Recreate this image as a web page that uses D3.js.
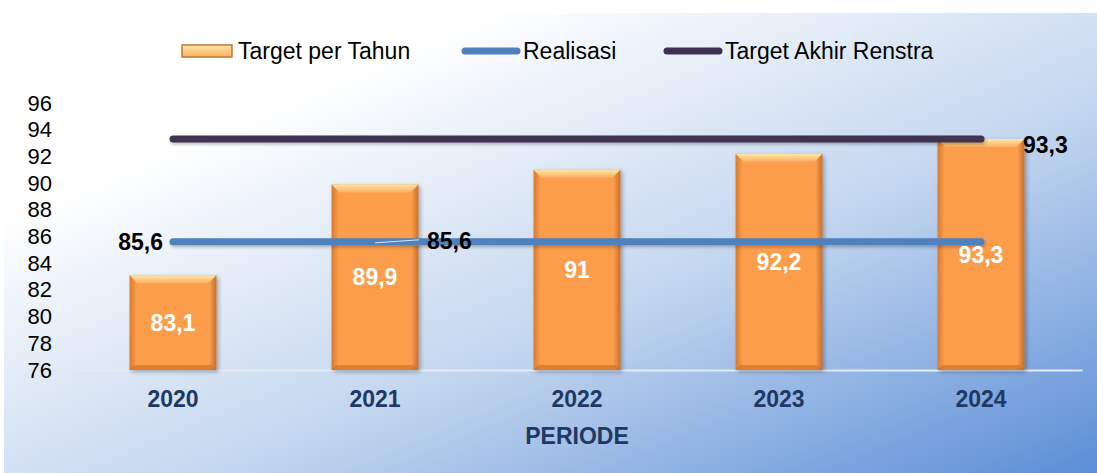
<!DOCTYPE html>
<html>
<head>
<meta charset="utf-8">
<script src="https://cdn.jsdelivr.net/npm/d3@7"></script>
<style>
  body { margin: 0; background: #fff; }
  svg { display: block; font-family: "Liberation Sans", Arial, sans-serif; }
</style>
</head>
<body>
<svg id="chart"></svg>
<script>
const years = ["2020", "2021", "2022", "2023", "2024"]
const targetTahun = [83.1, 89.9, 91, 92.2, 93.3]
const realisasi = [85.6, 85.6, 85.6, 85.6, 85.6]
const targetRenstra = [93.3, 93.3, 93.3, 93.3, 93.3]
const yTicks = [76, 78, 80, 82, 84, 86, 88, 90, 92, 94, 96]
const legendNames = ["Target per Tahun", "Realisasi", "Target Akhir Renstra"]

const W = 1097, H = 473
const m = {t: 103, b: 103, l: 72, r: 15}

const fmt = v => String(v).replace(".", ",")

const svg = d3.select("#chart").attr("width", W).attr("height", H)
const defs = svg.append("defs")

// background
const bg = defs.append("linearGradient").attr("id", "bg")
    .attr("x1", 0).attr("y1", 0).attr("x2", 1).attr("y2", 1)
bg.append("stop").attr("offset", "0.22").attr("stop-color", "#ffffff")
bg.append("stop").attr("offset", "0.6").attr("stop-color", "#c3d6ef")
bg.append("stop").attr("offset", "1").attr("stop-color", "#5b8ed7")

svg.append("rect").attr("x", 4).attr("y", 13).attr("width", W - 4).attr("height", H - 13)
    .attr("fill", "url(#bg)")

// bar bevel
const side = defs.append("linearGradient").attr("id", "barSide")
    .attr("x1", 0).attr("y1", 0).attr("x2", 1).attr("y2", 0)
side.append("stop").attr("offset", "0").attr("stop-color", "#d9792c")
side.append("stop").attr("offset", "0.08").attr("stop-color", "#fc9d4c")
side.append("stop").attr("offset", "0.92").attr("stop-color", "#fc9d4c")
side.append("stop").attr("offset", "1").attr("stop-color", "#c96e28")

const barTop = defs.append("linearGradient").attr("id", "barTop")
    .attr("x1", 0).attr("y1", 0).attr("x2", 0).attr("y2", 1)
barTop.append("stop").attr("offset", "0").attr("stop-color", "#ffe6a8")
barTop.append("stop").attr("offset", "1").attr("stop-color", "#fcb060")

const shadow = defs.append("filter").attr("id", "shadow")
    .attr("x", "-10%").attr("y", "-10%").attr("width", "130%").attr("height", "130%")
shadow.append("feDropShadow").attr("dx", 2).attr("dy", 2).attr("stdDeviation", 2)
    .attr("flood-color", "#000").attr("flood-opacity", 0.3)

// flat lines have a zero-height bbox, so this one works in user space
const lineShadow = defs.append("filter").attr("id", "lineShadow")
    .attr("filterUnits", "userSpaceOnUse")
    .attr("x", 0).attr("y", 0).attr("width", W).attr("height", H)
lineShadow.append("feDropShadow").attr("dx", 1).attr("dy", 2).attr("stdDeviation", 1.5)
    .attr("flood-color", "#000").attr("flood-opacity", 0.25)

const x = d3.scaleBand().domain(years).range([m.l, W - m.r]).paddingInner(0.57).paddingOuter(0.285)
const y = d3.scaleLinear().domain([76, 96]).range([370, 103])

// y axis
const yAxis = svg.append("g")
    .attr("transform", `translate(52,0)`)
    .call(d3.axisLeft(y).tickValues(yTicks).tickSize(0).tickPadding(0))
yAxis.select(".domain").remove()
yAxis.selectAll("text").attr("font-size", 22).attr("fill", "#000")
    .attr("font-family", "Liberation Sans, Arial, sans-serif")

// x axis
const xAxis = svg.append("g")
    .attr("transform", `translate(0,${y(76)})`)
    .call(d3.axisBottom(x).tickSize(0).tickPadding(21))
xAxis.select(".domain").attr("stroke", "#e4ebf5").attr("stroke-width", 2)
xAxis.selectAll("text").attr("font-size", 23).attr("font-weight", "bold")
    .attr("fill", "#1f3864").attr("font-family", "Liberation Sans, Arial, sans-serif")

svg.append("text").attr("x", (m.l + W - m.r) / 2).attr("y", 444)
    .attr("text-anchor", "middle").attr("font-size", 23).attr("font-weight", "bold")
    .attr("fill", "#1f3864").text("PERIODE")

// bars
const bars = svg.selectAll(".bar").data(years).join("g").attr("class", "bar")
    .attr("filter", "url(#shadow)")
bars.append("rect")
    .attr("x", d => x(d)).attr("width", x.bandwidth())
    .attr("y", (d, i) => y(targetTahun[i]))
    .attr("height", (d, i) => y(76) - y(targetTahun[i]))
    .attr("fill", "url(#barSide)")
bars.append("path")
    .attr("d", (d, i) => {
        const x0 = x(d), x1 = x0 + x.bandwidth(), y0 = y(targetTahun[i]), b = 8
        return `M${x0},${y0}L${x1},${y0}L${x1 - b},${y0 + b}L${x0 + b},${y0 + b}Z`
    })
    .attr("fill", "url(#barTop)")
bars.append("path")
    .attr("d", d => {
        const x0 = x(d), x1 = x0 + x.bandwidth(), y1 = y(76), b = 5
        return `M${x0},${y1}L${x1},${y1}L${x1 - b},${y1 - b}L${x0 + b},${y1 - b}Z`
    })
    .attr("fill", "#c56c26").attr("opacity", 0.6)

// lines
const cx = d => x(d) + x.bandwidth() / 2
const line = vals => d3.line().x(d => cx(d)).y((d, i) => y(vals[i]))(years)

svg.append("path").attr("d", line(targetRenstra))
    .attr("fill", "none").attr("stroke", "#3f3151").attr("stroke-width", 7)
    .attr("stroke-linecap", "round").attr("filter", "url(#lineShadow)")
svg.append("path").attr("d", line(realisasi))
    .attr("fill", "none").attr("stroke", "#4f81bd").attr("stroke-width", 7)
    .attr("stroke-linecap", "round").attr("filter", "url(#lineShadow)")

// bar labels
svg.selectAll(".blab").data(years).join("text").attr("class", "blab")
    .attr("x", d => cx(d))
    .attr("y", (d, i) => (y(targetTahun[i]) + y(76)) / 2 + 8)
    .attr("text-anchor", "middle").attr("font-size", 23).attr("font-weight", "bold")
    .attr("fill", "#fff").text((d, i) => fmt(targetTahun[i]))

// line labels
svg.append("text").attr("x", cx(years[0]) - 10).attr("y", y(realisasi[0]) + 8)
    .attr("text-anchor", "end").attr("font-size", 23).attr("font-weight", "bold")
    .text(fmt(realisasi[0]))
svg.append("line")
    .attr("x1", cx(years[1])).attr("y1", y(realisasi[1]) + 1)
    .attr("x2", cx(years[1]) + 44).attr("y2", y(realisasi[1]) - 2)
    .attr("stroke", "#dbe6f4").attr("stroke-width", 1)
svg.append("text").attr("x", cx(years[1]) + 52).attr("y", y(realisasi[1]) + 7)
    .attr("font-size", 23).attr("font-weight", "bold")
    .text(fmt(realisasi[1]))
svg.append("text").attr("x", cx(years[4]) + 42).attr("y", y(targetRenstra[4]) + 14)
    .attr("font-size", 23).attr("font-weight", "bold")
    .text(fmt(targetRenstra[4]))

// legend
const lg = svg.append("g")
const lgX = [182, 462, 664]
const ly = 51
lg.append("rect").attr("x", lgX[0]).attr("y", ly - 6).attr("width", 50).attr("height", 12)
    .attr("fill", "url(#barTop)").attr("stroke", "#c3752f").attr("stroke-width", 1.5)
lg.append("line").attr("x1", lgX[1] + 3).attr("x2", lgX[1] + 55).attr("y1", ly).attr("y2", ly)
    .attr("stroke", "#4f81bd").attr("stroke-width", 7).attr("stroke-linecap", "round")
lg.append("line").attr("x1", lgX[2] + 3).attr("x2", lgX[2] + 55).attr("y1", ly).attr("y2", ly)
    .attr("stroke", "#3f3151").attr("stroke-width", 7).attr("stroke-linecap", "round")
lg.selectAll("text").data(legendNames).join("text")
    .attr("x", (d, i) => lgX[i] + (i === 0 ? 56 : 61)).attr("y", ly + 8)
    .attr("font-size", 23).attr("fill", "#000").text(d => d)
</script>
</body>
</html>
